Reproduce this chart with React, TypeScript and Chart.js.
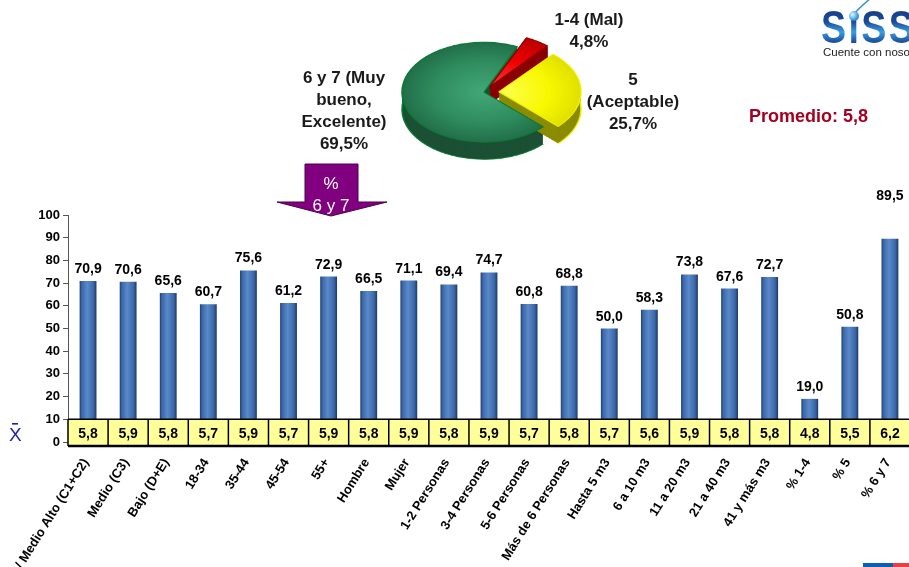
import React, { useEffect, useRef } from 'react';
import { Chart, registerables } from 'chart.js';

Chart.register(...registerables);

// ---------- data ----------
const categories = [
  'Alto / Medio Alto (C1+C2)', 'Medio (C3)', 'Bajo (D+E)', '18-34', '35-44', '45-54', '55+',
  'Hombre', 'Mujer', '1-2 Personas', '3-4 Personas', '5-6 Personas', 'Más de 6 Personas',
  'Hasta 5 m3', '6 a 10 m3', '11 a 20 m3', '21 a 40 m3', '41 y más m3', '% 1-4', '% 5', '% 6 y 7',
];
const pct6y7 = [70.9, 70.6, 65.6, 60.7, 75.6, 61.2, 72.9, 66.5, 71.1, 69.4, 74.7, 60.8, 68.8, 50.0, 58.3, 73.8, 67.6, 72.7, 19.0, 50.8, 89.5];
const means = [5.8, 5.9, 5.8, 5.7, 5.9, 5.7, 5.9, 5.8, 5.9, 5.8, 5.9, 5.7, 5.8, 5.7, 5.6, 5.9, 5.8, 5.8, 4.8, 5.5, 6.2];
const yMin = 0;
const yMax = 100;
const yStep = 10;

const pieLabels = ['1-4 (Mal)', '5 (Aceptable)', '6 y 7 (Muy bueno, Excelente)'];
const pieNameLines = [['1-4 (Mal)'], ['5', '(Aceptable)'], ['6 y 7 (Muy', 'bueno,', 'Excelente)']];
const pieValues = [4.8, 25.7, 69.5];
const overallMean = 5.8;

const FONT = "'Liberation Sans', Arial, sans-serif";
const fmt = (v: number) => v.toFixed(1).replace('.', ',');

function BarChart() {
  const ref = useRef<HTMLCanvasElement>(null);
  useEffect(() => {
    const canvas = ref.current!;
    const overlay = {
      id: 'tableAndLabels',
      afterDatasetsDraw(chart: any) {
        const { ctx } = chart;
        const x = chart.scales.x;
        const y = chart.scales.y;
        const n = categories.length;
        const w = x.getPixelForValue(1) - x.getPixelForValue(0);
        const top = y.getPixelForValue(10);
        const bottom = y.getPixelForValue(0) + 4;
        ctx.save();
        // value labels above bars
        ctx.font = `bold 14px ${FONT}`;
        ctx.fillStyle = '#000';
        ctx.textAlign = 'center';
        ctx.textBaseline = 'alphabetic';
        pct6y7.forEach((v, i) => {
          const px = x.getPixelForValue(i);
          const py = y.getPixelForValue(v);
          const lift = i === n - 1 ? 31 : 0;
          ctx.fillText(fmt(v), px, py - 8 - lift);
        });
        // mean table
        const left = x.getPixelForValue(0) - w / 2;
        const right = x.getPixelForValue(n - 1) + w / 2;
        ctx.fillStyle = '#ffff99';
        ctx.fillRect(left, top, right - left, bottom - top);
        ctx.strokeStyle = '#000';
        ctx.lineWidth = 1.5;
        ctx.beginPath();
        for (let i = 0; i < n; i++) {
          const bx = x.getPixelForValue(i) - w / 2;
          ctx.moveTo(bx, top);
          ctx.lineTo(bx, bottom);
        }
        ctx.moveTo(right, top);
        ctx.lineTo(right, bottom);
        ctx.moveTo(left, top);
        ctx.lineTo(right, top);
        ctx.stroke();
        ctx.lineWidth = 2.5;
        ctx.beginPath();
        ctx.moveTo(left, bottom);
        ctx.lineTo(right, bottom);
        ctx.stroke();
        ctx.fillStyle = '#000';
        ctx.textBaseline = 'middle';
        means.forEach((m, i) => ctx.fillText(fmt(m), x.getPixelForValue(i), (top + bottom) / 2 + 1));
        ctx.restore();
      },
      afterDraw(chart: any) {
        const { ctx } = chart;
        const x = chart.scales.x;
        const y = chart.scales.y;
        const base = y.getPixelForValue(0) + 18;
        ctx.save();
        ctx.font = `bold 13px ${FONT}`;
        ctx.fillStyle = '#000';
        ctx.textAlign = 'right';
        ctx.textBaseline = 'middle';
        categories.forEach((c, i) => {
          ctx.save();
          ctx.translate(x.getPixelForValue(i) - 2, base);
          ctx.rotate((-58 * Math.PI) / 180);
          ctx.fillText(c, 0, 0);
          ctx.restore();
        });
        ctx.restore();
      },
    };
    const chart = new Chart(canvas, {
      type: 'bar',
      data: {
        labels: categories,
        datasets: [
          {
            data: pct6y7,
            barPercentage: 0.42,
            categoryPercentage: 1,
            backgroundColor: (c: any) => {
              const ch = c.chart;
              const xs = ch.scales && ch.scales.x;
              if (!ch.chartArea || !xs || c.dataIndex == null) return '#3f6db0';
              const cx = xs.getPixelForValue(c.dataIndex);
              const g = ch.ctx.createLinearGradient(cx - 9, 0, cx + 9, 0);
              g.addColorStop(0, '#1a335c');
              g.addColorStop(0.15, '#3a67a8');
              g.addColorStop(0.45, '#5a89c9');
              g.addColorStop(0.8, '#3a67a8');
              g.addColorStop(1, '#182f55');
              return g;
            },
            borderWidth: 0,
          },
        ],
      },
      options: {
        responsive: false,
        animation: false,
        layout: { padding: { top: 215, bottom: 125, left: 0, right: 20 } },
        plugins: { legend: { display: false }, tooltip: { enabled: false } },
        scales: {
          x: { display: false, offset: true },
          y: {
            min: yMin,
            max: yMax,
            ticks: { stepSize: yStep, color: '#000', padding: 3, font: { family: FONT, size: 13, weight: 'bold' } },
            grid: { drawOnChartArea: false, tickLength: 5, color: '#555' },
            border: { color: '#555', width: 1 },
            afterFit: (s: any) => {
              s.width = 68;
            },
          },
        },
      } as any,
      plugins: [overlay],
    });
    return () => chart.destroy();
  }, []);
  return <canvas ref={ref} width={930} height={567} style={{ position: 'absolute', left: 0, top: 0 }} />;
}

const pieTop = [
  ['#ff3a3a', '#ee0000', '#b80000'],
  ['#ffff55', '#f8f800', '#d8d800'],
  ['#42a878', '#2f8c5e', '#1d6644'],
];
const pieSide = ['#8a0000', '#8c8c00', '#1b5035'];
const pieBorder = ['#900000', '#f0f000', '#0b7a30'];

function PieChart() {
  const ref = useRef<HTMLCanvasElement>(null);
  useEffect(() => {
    const canvas = ref.current!;
    const depth = 28;
    const pie3D = {
      id: 'pie3d',
      beforeDatasetsDraw(chart: any) {
        const ctx = chart.ctx;
        const meta = chart.getDatasetMeta(0);
        const order = [2, 0, 1];
        order.forEach((i) => {
          const el = meta.data[i];
          if (!el) return;
          const { x, y, startAngle, endAngle, outerRadius } = el.getProps(['x', 'y', 'startAngle', 'endAngle', 'outerRadius'], true);
          const off = (el.options.offset || 0) / 4;
          const half = (startAngle + endAngle) / 2;
          const cx = x + Math.cos(half) * off;
          const cy = y + Math.sin(half) * off;
          const circ = endAngle - startAngle;
          const fix = 1 - Math.sin(Math.min(Math.PI, circ));
          const R = outerRadius + off * fix;
          ctx.save();
          ctx.fillStyle = pieSide[i];
          for (let k = depth; k >= 1; k--) {
            ctx.beginPath();
            ctx.moveTo(cx, cy + k);
            ctx.arc(cx, cy + k, R, startAngle, endAngle);
            ctx.closePath();
            ctx.fill();
          }
          ctx.strokeStyle = pieBorder[i];
          ctx.lineWidth = 1.5;
          ctx.beginPath();
          ctx.arc(cx, cy + depth, R, startAngle, endAngle);
          ctx.stroke();
          ctx.restore();
        });
      },
    };
    const chart = new Chart(canvas, {
      type: 'pie',
      data: {
        labels: pieLabels,
        datasets: [
          {
            data: pieValues,
            offset: [40, 60, 0],
            borderWidth: 1.5,
            borderColor: pieBorder,
            backgroundColor: (c: any) => {
              const ch = c.chart;
              const i = c.dataIndex ?? 0;
              if (!ch.chartArea) return pieTop[i][1];
              const ca = ch.chartArea;
              const cx = (ca.left + ca.right) / 2;
              const cy = (ca.top + ca.bottom) / 2;
              const g = ch.ctx.createRadialGradient(cx, cy, 0, cx, cy, 92);
              g.addColorStop(0, pieTop[i][0]);
              g.addColorStop(0.55, pieTop[i][1]);
              g.addColorStop(1, pieTop[i][2]);
              return g;
            },
          },
        ],
      },
      options: {
        responsive: false,
        animation: false,
        rotation: 24,
        radius: 82,
        layout: { padding: 0 },
        plugins: { legend: { display: false }, tooltip: { enabled: false } },
      } as any,
      plugins: [pie3D],
    });
    return () => chart.destroy();
  }, []);
  return (
    <div style={{ position: 'absolute', left: 364, top: 19, width: 240, height: 240, transform: 'scaleY(0.61)', transformOrigin: 'left top' }}>
      <canvas ref={ref} width={240} height={240} />
    </div>
  );
}

const labelStyle: React.CSSProperties = {
  position: 'absolute',
  font: `bold 17px ${FONT}`,
  lineHeight: '22px',
  color: '#1a1a1a',
  textAlign: 'center',
  whiteSpace: 'nowrap',
  transform: 'translateX(-50%)',
};

const pieLabelPos = [
  { cx: 589, top: 9 },
  { cx: 633, top: 69 },
  { cx: 344, top: 67 },
];

export default function App() {
  return (
    <div style={{ position: 'absolute', left: 0, top: 0, width: 909, height: 567, overflow: 'hidden', background: '#fff', fontFamily: FONT }}>
      <BarChart />
      <PieChart />
      {pieNameLines.map((lines, i) => (
        <div key={i} style={{ ...labelStyle, left: pieLabelPos[i].cx, top: pieLabelPos[i].top }}>
          {lines.map((l, j) => (
            <div key={j}>{l}</div>
          ))}
          <div>{fmt(pieValues[i])}%</div>
        </div>
      ))}
      <div style={{ position: 'absolute', left: 749, top: 105, font: `bold 18px ${FONT}`, lineHeight: '22px', color: '#a50021', whiteSpace: 'nowrap' }}>
        Promedio: {fmt(overallMean)}
      </div>
      <svg width={909} height={567} style={{ position: 'absolute', left: 0, top: 0, pointerEvents: 'none' }}>
        <polygon points="305,164 358,164 358,202 387,202 331,216 277,202 305,202" fill="#800080" stroke="#4a004a" strokeWidth={1} />
        <text x={331} y={189} fill="#fff" fontSize={17} fontFamily={FONT} textAnchor="middle">%</text>
        <text x={331} y={211} fill="#fff" fontSize={17} fontFamily={FONT} textAnchor="middle">6 y 7</text>
        <path d="M854,14 C859,8 865,3 871,-2" stroke="#3a8fd8" strokeWidth={1.5} fill="none" />
        <rect x={863} y={563} width={30} height={4} fill="#0b5fb3" />
        <rect x={893} y={563} width={16} height={4} fill="#ef3e42" />
        <rect x={12} y={423} width={6} height={1.6} fill="#1f1fa8" />
      </svg>
      <div style={{ position: 'absolute', left: 9, top: 424, font: `19px ${FONT}`, lineHeight: '22px', color: '#1f1fa8' }}>X</div>
      <div
        style={{
          position: 'absolute',
          left: 821,
          top: 3,
          font: `bold 47px ${FONT}`,
          lineHeight: '47px',
          letterSpacing: '3px',
          whiteSpace: 'nowrap',
          transform: 'scaleX(0.8)',
          transformOrigin: 'left top',
          background: 'linear-gradient(#14377f 0%, #1b4a9a 40%, #3a9ee2 62%, #1a4592 85%)',
          WebkitBackgroundClip: 'text',
          backgroundClip: 'text',
          color: 'transparent',
        }}
      >
        SıSS
      </div>
      <div style={{ position: 'absolute', left: 849, top: 11, width: 10, height: 10, borderRadius: 5, background: 'radial-gradient(circle at 35% 35%, #e8f6ff, #3fa3e6 55%, #1a4f9a)' }} />
      <div style={{ position: 'absolute', left: 823, top: 45, font: `11.5px ${FONT}`, lineHeight: '14px', color: '#222', whiteSpace: 'nowrap' }}>
        Cuente con nosotros
      </div>
    </div>
  );
}
